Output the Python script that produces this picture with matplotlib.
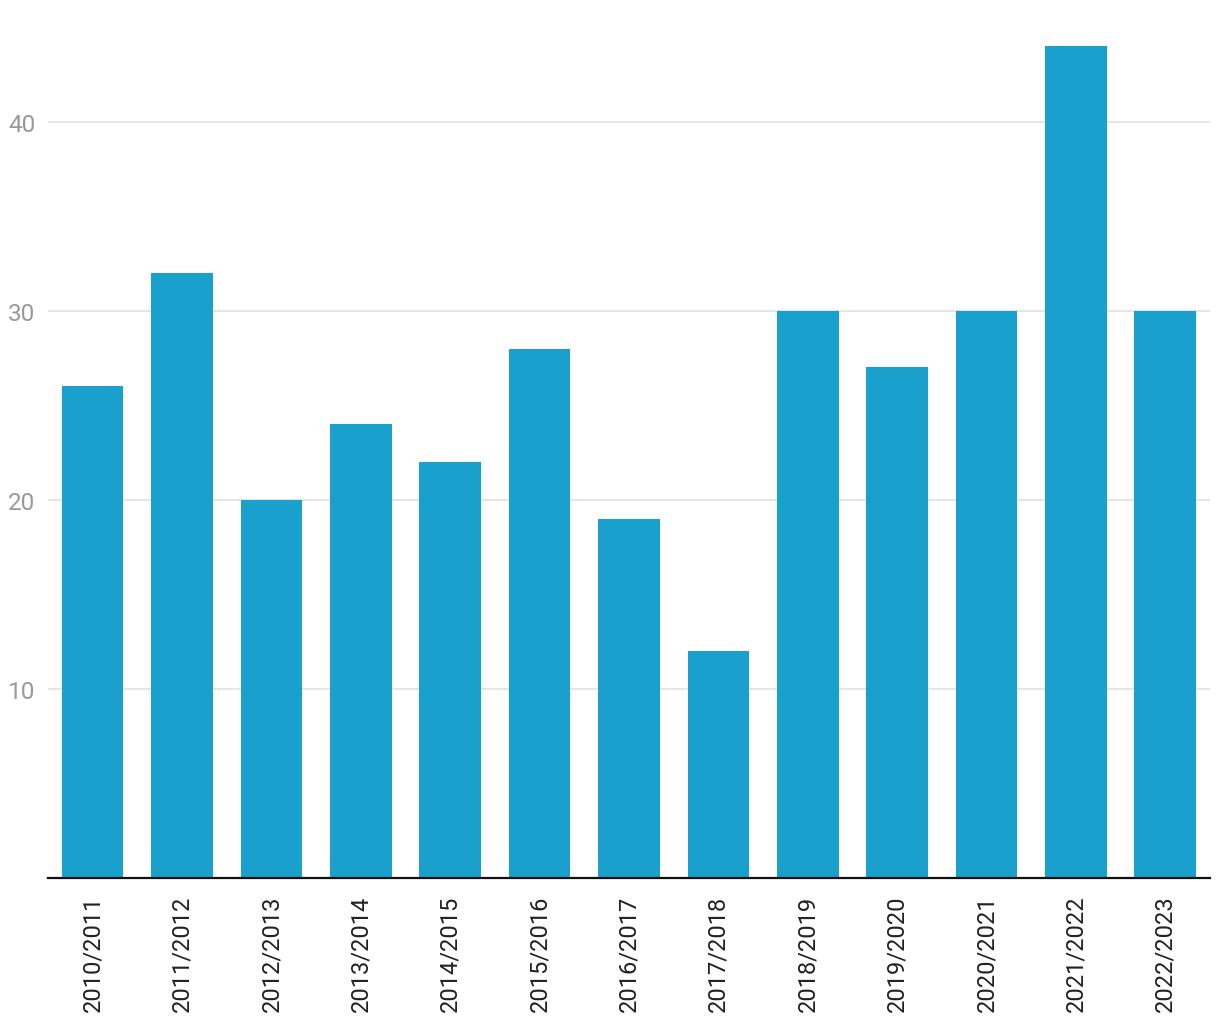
import matplotlib.pyplot as plt

plt.rcParams["font.family"] = ["Roboto", "DejaVu Sans"]

seasons = ["2010/2011", "2011/2012", "2012/2013", "2013/2014", "2014/2015",
           "2015/2016", "2016/2017", "2017/2018", "2018/2019", "2019/2020",
           "2020/2021", "2021/2022", "2022/2023"]
values = [26, 32, 20, 24, 22, 28, 19, 12, 30, 27, 30, 44, 30]

fig = plt.figure(figsize=(12.2, 10.2), dpi=100)
ax = fig.add_axes([0.0393, 0.1385, 0.9525, 0.8615])

x = range(len(seasons))
ax.bar(x, values, width=0.69, color="#1aa0cc", zorder=2)

ax.set_xlim(-0.5, len(seasons) - 0.5)
ax.set_ylim(0, 46.5)
ax.set_yticks([10, 20, 30, 40])
ax.set_xticks(list(x))
ax.set_xticklabels(seasons, rotation=90, fontsize=17, color="#222222")
ax.tick_params(axis="x", length=0, pad=12)
ax.tick_params(axis="y", length=0, pad=9, labelsize=17.5, labelcolor="#999999")

ax.grid(axis="y", color="#e0e0e0", linewidth=1.2, zorder=0)
for side in ["top", "right", "left"]:
    ax.spines[side].set_visible(False)
ax.spines["bottom"].set_color("#111111")
ax.spines["bottom"].set_linewidth(1.6)
ax.spines["bottom"].set_zorder(3)

fig.savefig("out.png", dpi=100)
